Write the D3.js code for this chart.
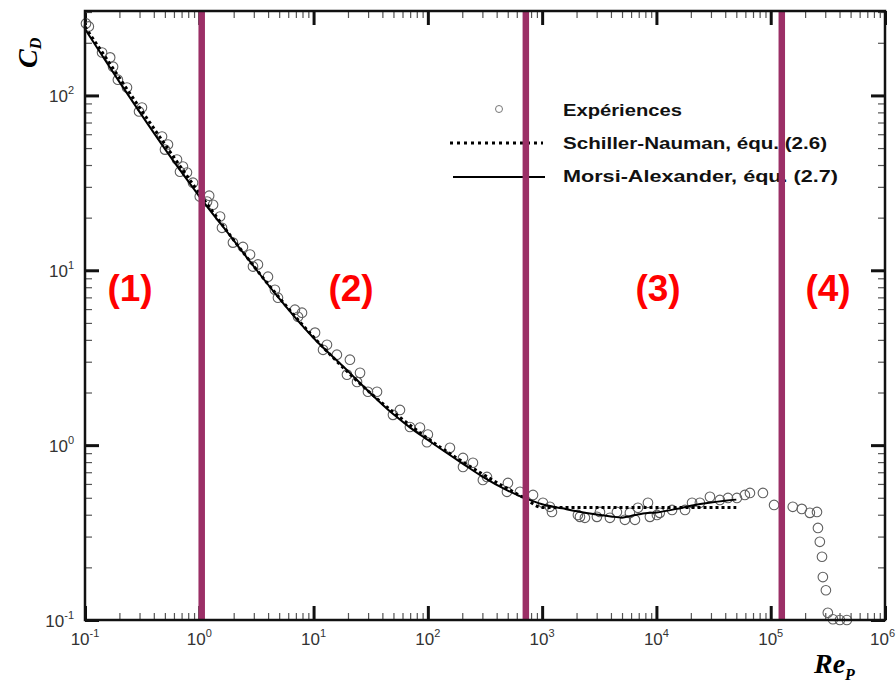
<!DOCTYPE html>
<html><head><meta charset="utf-8">
<script src="https://cdn.jsdelivr.net/npm/d3@7"></script>
<style>body{margin:0;background:#fff}svg{display:block}</style></head>
<body><svg id="c" width="896" height="686"></svg>
<script>
// ---------- data ----------
const expRe = [0.102,0.108,0.141,0.166,0.176,0.194,0.233,0.315,0.297,0.472,0.532,0.501,0.638,0.719,0.678,0.780,0.881,1.01,1.17,1.32,1.22,1.52,1.58,1.97,2.41,2.78,2.95,3.26,3.99,4.59,4.88,6.87,7.92,7.31,10.3,13.1,12.1,16.0,20.8,19.6,25.5,24.0,29.9,35.9,49.5,57.0,69.7,85.3,100,98.2,156,203,248,203,329,303,502,492,640,832,1016,1170,1219,2056,2143,2367,3015,3206,3920,4510,5300,5860,6490,6890,8430,8770,10100,10700,13700,17800,20500,24000,29400,35900,42300,50600,59400,65800,85500,107000,156000,187000,220000,254000,259000,269000,281000,286000,304000,316000,350000,403000,464000];
const expCd = [258,248,176,165,146,123,111,85.3,80.9,58.2,52.4,49.0,43.0,39.2,36.6,36.2,31.7,26.4,24.7,23.7,26.7,20.3,17.5,14.4,13.6,12.3,10.5,10.8,9.19,7.74,6.97,5.95,5.72,5.42,4.40,3.75,3.51,3.29,3.08,2.53,2.59,2.30,2.02,2.02,1.49,1.59,1.27,1.26,1.15,1.04,0.965,0.845,0.793,0.751,0.658,0.632,0.608,0.541,0.541,0.519,0.468,0.444,0.415,0.399,0.389,0.384,0.389,0.415,0.384,0.415,0.374,0.410,0.374,0.438,0.468,0.389,0.399,0.410,0.426,0.426,0.468,0.468,0.506,0.486,0.499,0.499,0.519,0.533,0.533,0.455,0.444,0.432,0.410,0.415,0.336,0.280,0.230,0.176,0.148,0.110,0.101,0.100,0.100];

const snRe = [0.1,0.2,0.3,0.5,0.7,1,2,3,5,7,10,20,30,50,70,100,200,300,500,700,1000,50000];
const snCd = [247,126,85.2,52.5,38.3,27.6,14.9,10.55,6.98,5.39,4.15,2.61,2.04,1.54,1.30,1.09,0.806,0.684,0.563,0.498,0.44,0.44];

const maRe = [0.1,0.2,0.3,0.5,0.7,1,2,3,5,7,10,20,30,50,70,100,200,300,500,700,1000,1500,2000,3000,4000,5000,6000,7000,8000,10000,15000,20000,30000,40000,50000];
const maCd = [240,119.6,80.5,49.5,36.4,26.5,14.83,10.51,6.90,5.31,4.10,2.65,2.04,1.50,1.26,1.07,0.787,0.661,0.550,0.499,0.459,0.435,0.419,0.401,0.391,0.385,0.394,0.402,0.408,0.412,0.432,0.450,0.470,0.481,0.488];

const regionBounds = [1.05, 720, 125000];
const regionLabels = ["(1)","(2)","(3)","(4)"];
const xTickExp = [-1,0,1,2,3,4,5,6];
const yTickExp = [-1,0,1,2];
const legendLabels = ["Expériences","Schiller-Nauman, équ. (2.6)","Morsi-Alexander, équ. (2.7)"];

// ---------- layout ----------
const L = 85, R = 885, T = 11, B = 620;
const svg = d3.select("#c");
const x = d3.scaleLog().domain([0.1, 1e6]).range([L, R]);
const y = d3.scaleLog().domain([0.1, 300]).range([B, T+1]);

const xMinor = [], yMinor = [];
for (let d = -1; d < 6; d++) for (let k = 2; k <= 9; k++) xMinor.push(k * Math.pow(10, d));
for (let d = -1; d < 3; d++) for (let k = 2; k <= 9; k++) { const v = k * Math.pow(10, d); if (v <= 300) yMinor.push(v); }
const xMajor = xTickExp.map(e => Math.pow(10, e));
const yMajor = yTickExp.map(e => Math.pow(10, e));

function styleAxis(g, w, col) {
  g.select(".domain").remove();
  g.selectAll(".tick line").attr("stroke", col).attr("stroke-width", w);
  g.selectAll(".tick text").remove();
}
const axes = svg.append("g");
[[d3.axisBottom(x), `translate(0,${B})`, xMinor, xMajor],
 [d3.axisTop(x), `translate(0,${T})`, xMinor, xMajor],
 [d3.axisLeft(y), `translate(${L},0)`, yMinor, yMajor],
 [d3.axisRight(y), `translate(${R},0)`, yMinor, yMajor]].forEach(([ax, tr, mn, mj]) => {
  axes.append("g").attr("transform", tr).call(ax.tickValues(mn).tickSize(-7).tickFormat(() => ""))
    .call(g => styleAxis(g, 1.2, "#555"));
  axes.append("g").attr("transform", tr).call(ax.tickValues(mj).tickSize(-14).tickFormat(() => ""))
    .call(g => styleAxis(g, 3, "#111"));
});

// tick labels
const lab = svg.append("g").attr("font-family", "Liberation Sans, Arial, sans-serif").attr("fill", "#333");
xTickExp.forEach((e, i) => {
  const last = i === xTickExp.length - 1;
  const t = lab.append("text").attr("x", last ? 895 : x(Math.pow(10, e))).attr("y", 645)
    .attr("text-anchor", last ? "end" : "middle").attr("font-size", 17);
  t.append("tspan").text("10");
  t.append("tspan").attr("dy", -8).attr("font-size", 11).text(e);
});
yTickExp.forEach(e => {
  const t = lab.append("text").attr("x", 74).attr("y", y(Math.pow(10, e)) + 7).attr("text-anchor", "end").attr("font-size", 17);
  t.append("tspan").text("10");
  t.append("tspan").attr("dy", -8).attr("font-size", 11).text(e);
});

// axis titles
const ty = svg.append("text").attr("transform", "translate(37,68) rotate(-90)")
  .attr("font-family", "Liberation Serif, Times New Roman, serif").attr("font-weight", "bold").attr("font-style", "italic").attr("font-size", 28);
ty.append("tspan").text("C");
ty.append("tspan").attr("dy", 4).attr("font-size", 16).text("D");
const tx = svg.append("text").attr("x", 814).attr("y", 673)
  .attr("font-family", "Liberation Serif, Times New Roman, serif").attr("font-weight", "bold").attr("font-style", "italic").attr("font-size", 28);
tx.append("tspan").text("Re");
tx.append("tspan").attr("dy", 7).attr("font-size", 16).text("P");

// experimental points
svg.append("g").selectAll("circle").data(d3.range(expRe.length)).join("circle")
  .attr("cx", i => x(expRe[i])).attr("cy", i => y(expCd[i])).attr("r", 4.8)
  .attr("fill", "none").attr("stroke", "#606060").attr("stroke-width", 1.1);

// curves
const line = d3.line().x(d => x(d[0])).y(d => y(d[1])).curve(d3.curveMonotoneX);
svg.append("path").datum(snRe.map((r, i) => [r, snCd[i]])).attr("d", line)
  .attr("fill", "none").attr("stroke", "#000").attr("stroke-width", 3).attr("stroke-dasharray", "3,3");
svg.append("path").datum(maRe.map((r, i) => [r, maCd[i]])).attr("d", line)
  .attr("fill", "none").attr("stroke", "#000").attr("stroke-width", 2);

// legend
const lg = svg.append("g").attr("font-family", "Liberation Sans, Arial, sans-serif").attr("font-weight", "bold").attr("font-size", 17).attr("fill", "#111");
lg.append("circle").attr("cx", 499).attr("cy", 109).attr("r", 3.5).attr("fill", "none").attr("stroke", "#777").attr("stroke-width", 1);
lg.append("line").attr("x1", 450).attr("x2", 543).attr("y1", 143).attr("y2", 143).attr("stroke", "#000").attr("stroke-width", 3).attr("stroke-dasharray", "3,4");
lg.append("line").attr("x1", 453).attr("x2", 545).attr("y1", 177).attr("y2", 177).attr("stroke", "#000").attr("stroke-width", 2);
const lgY = [116, 149, 182], lgW = [119, 264, 275];
legendLabels.forEach((s, i) => lg.append("text").attr("x", 563).attr("y", lgY[i])
  .attr("textLength", lgW[i]).attr("lengthAdjust", "spacingAndGlyphs").text(s));

// region separators
svg.append("g").selectAll("line").data(regionBounds).join("line")
  .attr("x1", d => x(d)).attr("x2", d => x(d)).attr("y1", T).attr("y2", B)
  .attr("stroke", "#9b2f66").attr("stroke-width", 6.5);

// region labels
const regionX = [130, 351, 658, 828];
svg.append("g").selectAll("text").data(regionLabels).join("text")
  .attr("x", (d, i) => regionX[i]).attr("y", 301).attr("text-anchor", "middle")
  .attr("font-family", "Liberation Sans, Arial, sans-serif").attr("font-weight", "bold").attr("font-size", 37)
  .attr("fill", "#ff0000").text(d => d);

// frame
svg.append("rect").attr("x", L).attr("y", T).attr("width", R - L).attr("height", B - T)
  .attr("fill", "none").attr("stroke", "#111").attr("stroke-width", 2.5);
</script></body></html>
